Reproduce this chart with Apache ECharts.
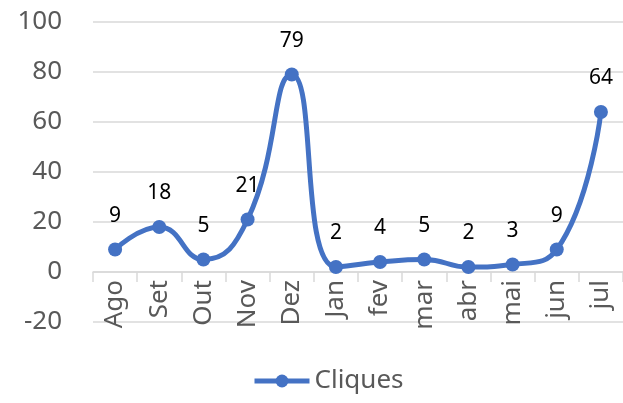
<!DOCTYPE html>
<html>
<head>
<meta charset="utf-8">
<script src="https://cdn.jsdelivr.net/npm/echarts@6/dist/echarts.min.js"></script>
<style>
  html, body { margin: 0; padding: 0; background: #fff; }
  #chart { width: 623px; height: 403px; }
</style>
</head>
<body>
<div id="chart"></div>
<script>
    // meses e cliques
    var meses = ['Ago', 'Set', 'Out', 'Nov', 'Dez', 'Jan', 'fev', 'mar', 'abr', 'mai', 'jun', 'jul'];
    var cliques = [9, 18, 5, 21, 79, 2, 4, 5, 2, 3, 9, 64];
    var yTicks = [-20, 0, 20, 40, 60, 80, 100];

    var fonte = 'Noto Sans';
    var cinza = '#595959';
    var linha = '#d9d9d9';
    var azul = '#4472C4';

    var myChart = echarts.init(document.getElementById('chart'));
    myChart.setOption({
        animation: false,
        grid: {
            left: 93,
            top: 22,
            width: 535,
            height: 300
        },
        legend: {
            bottom: 4,
            left: 247,
            itemWidth: 55,
            itemHeight: 16,
            itemGap: 6,
            lineStyle: { width: 5 },
            textStyle: { fontFamily: fonte, fontSize: 26, color: cinza },
            data: ['Cliques']
        },
        xAxis: {
            type: 'category',
            data: meses,
            // eixo na linha do zero (50px acima da base da grade)
            offset: -50,
            axisLine: { onZero: false, lineStyle: { color: linha, width: 1.5 } },
            axisTick: { show: true, length: 10, lineStyle: { color: linha, width: 1.5 } },
            axisLabel: {
                interval: 0,
                rotate: 90,
                margin: 8,
                fontFamily: fonte,
                fontSize: 26,
                color: cinza
            },
            splitLine: { show: false }
        },
        yAxis: {
            type: 'value',
            min: yTicks[0],
            max: yTicks[yTicks.length - 1],
            interval: 20,
            axisLine: { show: false },
            axisTick: { show: false },
            axisLabel: { margin: 31, fontFamily: fonte, fontSize: 26, color: cinza },
            splitLine: { lineStyle: { color: linha, width: 1.5 } }
        },
        series: [{
            name: 'Cliques',
            type: 'line',
            data: cliques,
            smooth: 0.5,
            symbol: 'circle',
            symbolSize: 14,
            lineStyle: { color: azul, width: 5 },
            itemStyle: { color: azul },
            label: {
                show: true,
                position: 'top',
                distance: 16,
                fontFamily: fonte,
                fontSize: 21,
                color: '#000'
            }
        }]
    });
</script>
</body>
</html>
